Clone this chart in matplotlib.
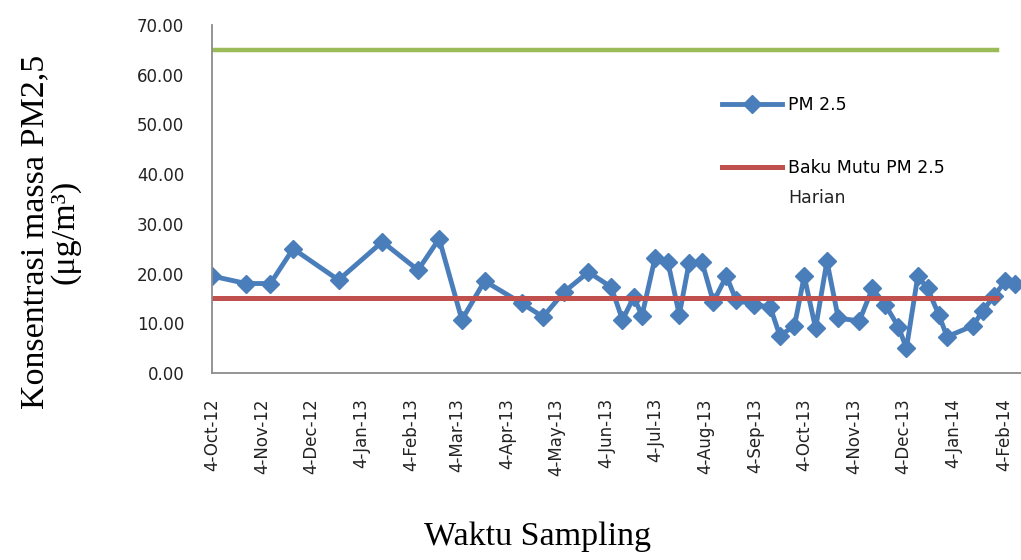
import matplotlib
matplotlib.use('Agg')
import matplotlib.pyplot as plt
import pandas as pd

# PM2.5 sampling data
sample_dates = ['2012-10-04', '2012-10-25', '2012-11-09', '2012-11-23', '2012-12-21',
                '2013-01-17', '2013-02-08', '2013-02-21', '2013-03-07', '2013-03-21',
                '2013-04-13', '2013-04-26', '2013-05-09', '2013-05-24', '2013-06-07',
                '2013-06-14', '2013-06-21', '2013-06-26', '2013-07-04', '2013-07-12',
                '2013-07-19', '2013-07-25', '2013-08-02', '2013-08-09', '2013-08-17',
                '2013-08-23', '2013-09-03', '2013-09-13', '2013-09-19', '2013-09-28',
                '2013-10-04', '2013-10-11', '2013-10-18', '2013-10-25', '2013-11-07',
                '2013-11-15', '2013-11-23', '2013-12-01', '2013-12-06', '2013-12-13',
                '2013-12-19', '2013-12-26', '2013-12-31', '2014-01-16', '2014-01-22',
                '2014-01-29', '2014-02-05', '2014-02-11']
pm25 = [19.5, 18.0, 18.0, 25.0, 18.7, 26.4, 20.7, 27.0, 10.7, 18.5,
        14.0, 11.3, 16.3, 20.3, 17.3, 10.7, 15.3, 11.5, 23.1, 22.3,
        11.7, 22.1, 22.3, 14.3, 19.5, 14.7, 13.7, 13.3, 7.5, 9.5,
        19.5, 9.0, 22.5, 11.0, 10.5, 17.0, 13.7, 9.3, 5.0, 19.5,
        17.0, 11.7, 7.3, 9.5, 12.5, 15.5, 18.5, 18.0]

# standard lines
std_dates = ['2012-10-04', '2014-01-31']
baku_mutu_harian = [15, 15]
baku_mutu_other = [65, 65]

tick_dates = pd.date_range('2012-10-01', '2014-02-04', freq='MS') + pd.Timedelta(days=3)
tick_labels = [f"{d.day}-{d:%b-%y}" for d in tick_dates]

x = pd.to_datetime(sample_dates)
xs = pd.to_datetime(std_dates)

fig = plt.figure(figsize=(10.21, 5.6), dpi=100)
ax = fig.add_axes([212 / 1021, 1 - 373 / 560, 0.82, 348 / 560])

ax.plot(xs, baku_mutu_other, color='#9bbb59', linewidth=3.2)
ax.plot(x, pm25, color='#4a7ebb', linewidth=3.5, marker='D', markersize=9.5,
        label='PM 2.5')
ax.plot(xs, baku_mutu_harian, color='#c0504d', linewidth=3.6,
        label='Baku Mutu PM 2.5')

ax.set_ylim(0, 70)
ax.set_yticks(range(0, 71, 10))
ax.set_yticklabels([f'{v:.2f}' for v in range(0, 71, 10)])
ax.set_xlim(pd.Timestamp('2012-10-04'), pd.Timestamp('2014-03-04'))
ax.set_xticks(tick_dates)
ax.set_xticklabels(tick_labels, rotation=90, va='top', ha='center')

ax.tick_params(axis='both', length=0, labelsize=12, colors='#222222')
ax.tick_params(axis='y', pad=20)
ax.tick_params(axis='x', pad=18)

for s in ['top', 'right']:
    ax.spines[s].set_visible(False)
for s in ['left', 'bottom']:
    ax.spines[s].set_color('#8c8c8c')
    ax.spines[s].set_linewidth(1.3)

leg = ax.legend(loc='upper left', bbox_to_anchor=(706 / 1021, 1 - 80 / 560),
                bbox_transform=fig.transFigure, frameon=False,
                fontsize=12.5, handlelength=3.5, labelspacing=2.6, handletextpad=0.35)
# wrapped second line of the second legend label
fig.text(788 / 1021, 1 - 198 / 560, 'Harian', ha='left', va='center',
         fontsize=12.5, color='#222222')

fig.text(50 / 1021, 1 - 232 / 560, 'Konsentrasi massa PM2,5\n(μg/m³)',
         rotation=90, ha='center', va='center', fontsize=24.5,
         family='Liberation Serif', linespacing=1.0)
fig.text(537 / 1021, 1 - 522 / 560, 'Waktu Sampling', ha='center', va='top',
         fontsize=24.5, family='Liberation Serif')

fig.savefig('out.png', dpi=100)
